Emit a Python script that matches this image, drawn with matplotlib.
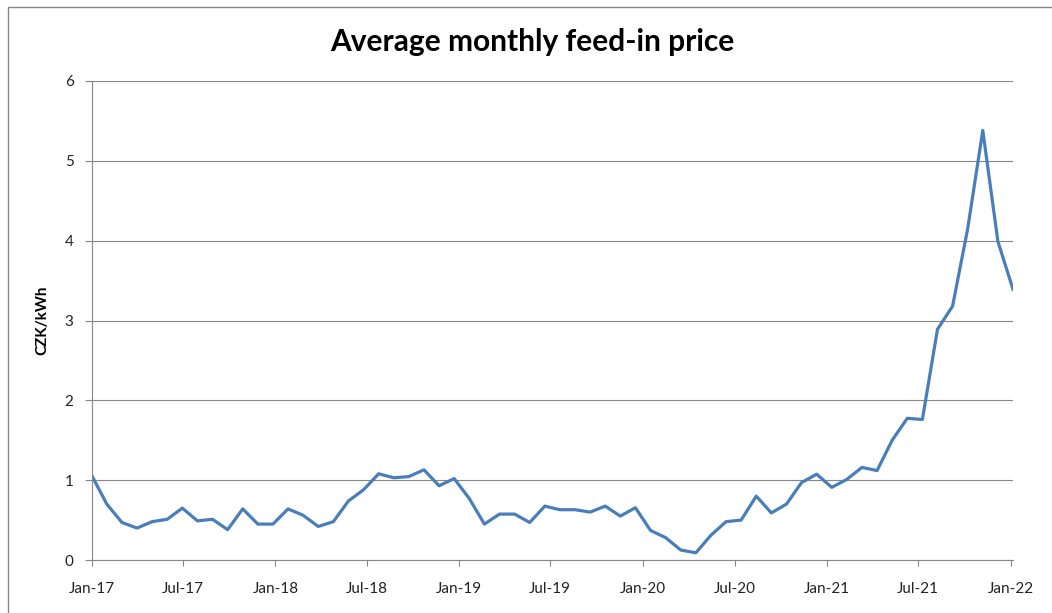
import numpy as np
import pandas as pd
import matplotlib
matplotlib.use("Agg")
import matplotlib.pyplot as plt
import matplotlib.dates as mdates
from matplotlib.patches import Rectangle

# average monthly feed-in price, CZK/kWh (readings taken every 30 days from 1 Jan 2017)
price = [1.06, 0.70, 0.47, 0.40, 0.48, 0.51, 0.65, 0.49, 0.51, 0.38,
         0.64, 0.45, 0.45, 0.64, 0.56, 0.42, 0.48, 0.74, 0.88, 1.08,
         1.03, 1.045, 1.13, 0.93, 1.02, 0.77, 0.45, 0.575, 0.575, 0.47,
         0.675, 0.63, 0.63, 0.60, 0.675, 0.55, 0.655, 0.37, 0.28, 0.125,
         0.09, 0.31, 0.48, 0.50, 0.80, 0.59, 0.70, 0.97, 1.075, 0.91,
         1.01, 1.16, 1.12, 1.50, 1.775, 1.76, 2.89, 3.18, 4.15, 5.38,
         3.99, 3.39]
start_date = "2017-01-01"
step = "30D"
tick_dates = pd.date_range("2017-01-01", "2022-01-01", freq="6MS")

title = "Average monthly feed-in price"
ylabel = "CZK/kWh"

dates = pd.date_range(start_date, periods=len(price), freq=step)

plt.rcParams["font.family"] = ["Lato", "DejaVu Sans"]
grey = "#868686"
blue = "#4a7ebb"

W, H = 1052, 613
fig = plt.figure(figsize=(W / 100, H / 100), dpi=100)
ax = fig.add_axes([91.7 / W, 1 - 560 / H, (1013 - 91.7) / W, (560 - 81) / H])

# outer chart frame
fig.patches.append(Rectangle((8 / W, -0.05), 1.2, 1 - 7 / H + 0.05,
                             transform=fig.transFigure, fill=False,
                             edgecolor=grey, lw=1.0))

ax.plot(dates, price, color=blue, lw=2.3, solid_joinstyle="round")

ax.set_ylim(0, 6)
ax.set_yticks(range(0, 7))
ax.set_xlim(dates[0], dates[-1])
ax.set_xticks(tick_dates)
ax.xaxis.set_major_formatter(mdates.DateFormatter("%b-%y"))

ax.grid(axis="y", color=grey, lw=0.8)
ax.set_axisbelow(True)
for s in ["top", "right"]:
    ax.spines[s].set_visible(False)
for s in ["left", "bottom"]:
    ax.spines[s].set_color(grey)
    ax.spines[s].set_linewidth(0.8)

ax.tick_params(axis="y", direction="out", length=5, width=0.8, color=grey,
               labelsize=11, labelcolor="#222222", pad=8)
ax.tick_params(axis="x", direction="out", length=4, width=0.8, color=grey,
               labelsize=11, labelcolor="#222222", pad=12)

ax.set_ylabel(ylabel, fontsize=11, fontweight="bold", labelpad=11)
fig.text(532 / W, 1 - 42 / H, title, ha="center", va="center",
         fontsize=21.5, fontweight="bold")

fig.savefig("out.png", dpi=100)
